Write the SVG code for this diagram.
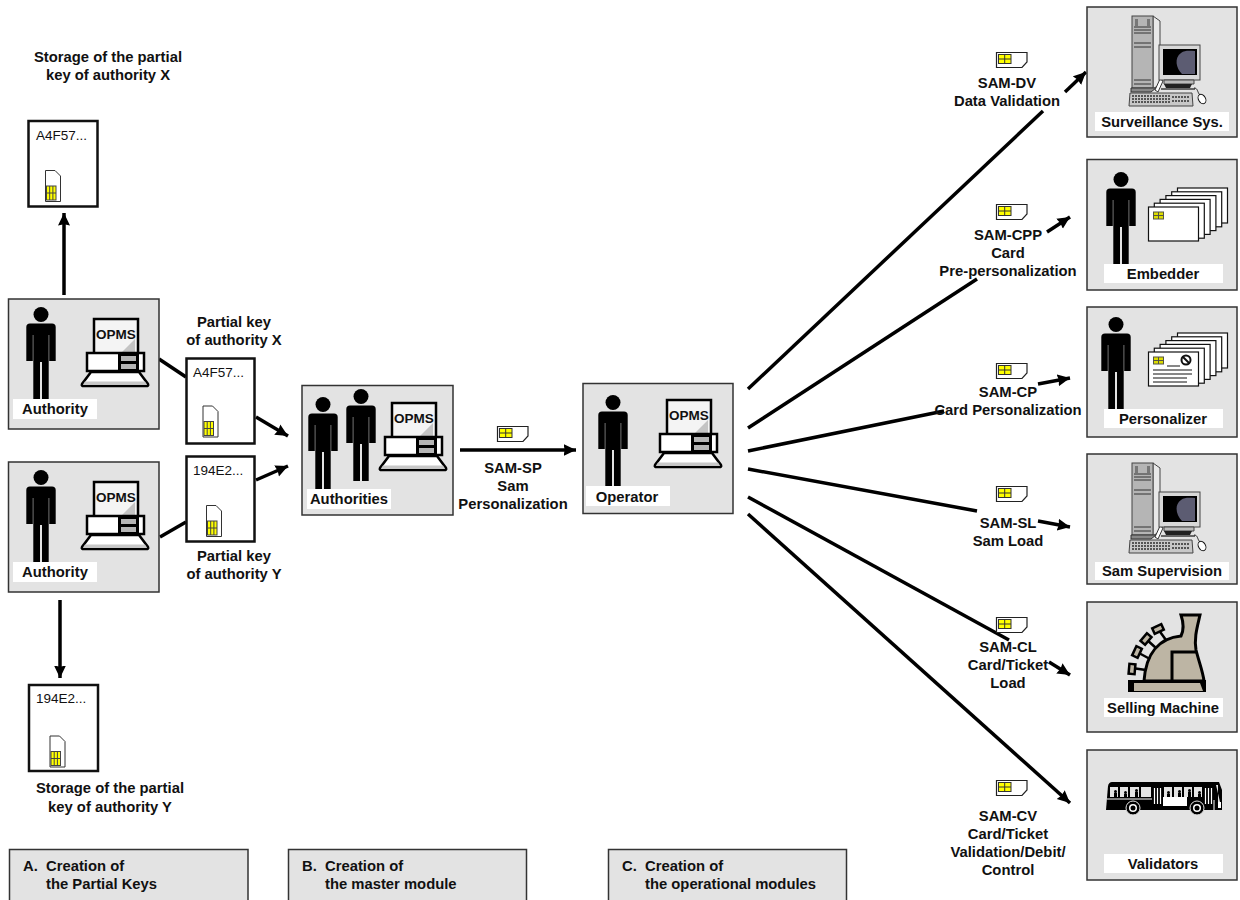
<svg xmlns="http://www.w3.org/2000/svg" xmlns:xlink="http://www.w3.org/1999/xlink" width="1240" height="900" viewBox="0 0 1240 900">
<style>
text{font-family:"Liberation Sans",Arial,sans-serif;font-size:14.8px;font-weight:bold;fill:#111}
.c{text-anchor:middle}
.r{font-weight:normal;font-size:13.5px}
.box{fill:#e3e3e3;stroke:#333;stroke-width:1.5}
.lab{fill:#fff;stroke:none}
.key{fill:#fff;stroke:#111;stroke-width:2.5}
.con{fill:none;stroke:#000;stroke-width:3.5}
.arr{fill:none;stroke:#000;stroke-width:3.5;marker-end:url(#ah)}
</style>
<defs>
<marker id="ah" markerUnits="userSpaceOnUse" markerWidth="14" markerHeight="13" refX="12.500" refY="6.500" orient="auto"><path d="M0 .5L12.500 6.500L0 12.500L1.200 6.500Z" fill="#000"/></marker>
<g id="person">
<circle cx="0" cy="7.500" r="7.500" fill="#000"/>
<path d="M-14.700 20Q-14.700 16.500-11 16.500H11Q14.700 16.500 14.700 20V54H8.200V28H7.700V92H1V55H-1V92H-7.700V28H-8.200V54H-14.700Z" fill="#000"/>
</g>
<g id="opms">
<rect x="0" y="0" width="44" height="35" fill="#f4f4f4" stroke="#000" stroke-width="2.500"/>
<path d="M27 34L41 20V34Z" fill="#c4c4c4"/>
<text x="2" y="20" style="font-size:13.500px">OPMS</text>
<rect x="-7" y="34" width="57" height="18" fill="#fff" stroke="#000" stroke-width="2.500"/>
<rect x="24" y="34" width="21" height="18" fill="#000"/>
<rect x="27" y="37" width="15" height="5" fill="#b5b5b5"/><rect x="27" y="45" width="15" height="5" fill="#b5b5b5"/>
<path d="M-3 53L-12 65Q-13 67-10 67H52Q55 67 54 65L45 53Z" fill="#fff" stroke="#000" stroke-width="2.500"/>
<path d="M-9 62.500H51L53 65.800H-11Z" fill="#c8c8c8"/>
</g>
<g id="simv">
<path d="M.5.500H10L15.500 6V31.500H.5Z" fill="#fff" stroke="#333" stroke-width="1"/>
<rect x="1.500" y="16" width="9.500" height="14" fill="#ff0" stroke="#444" stroke-width="1"/>
<path d="M4.700 16V30M7.900 16V30M1.500 23H11" stroke="#444" stroke-width="1"/>
</g>
<g id="simh">
<path d="M.5.500H31V10L26 15.500H.5Z" fill="#fff" stroke="#222" stroke-width="1.200"/>
<rect x="2.500" y="2.500" width="12.500" height="9" fill="#ff0" stroke="#333" stroke-width="1"/>
<path d="M2.500 7H15M8.700 2.500V11.500" stroke="#333" stroke-width="1"/>
</g>
<g id="computer">
<path d="M1153 16L1160 21V84L1153 89Z" fill="#e8e8e8" stroke="#444" stroke-width="1"/>
<rect x="1132" y="16" width="21" height="72" fill="#b5b5b5" stroke="#444" stroke-width="1"/>
<path d="M1134 27H1151M1134 30H1151M1134 33H1151M1134 43H1151M1134 47H1151M1134 80H1151M1134 84H1151" stroke="#333" stroke-width="1"/>
<rect x="1135" y="19" width="3" height="7" fill="#777"/><rect x="1147" y="19" width="3" height="7" fill="#777"/>
<path d="M1131 88H1156L1151 92H1131Z" fill="#888" stroke="#333" stroke-width="1"/>
<path d="M1155 90L1160 79L1163 81L1158 92Z" fill="#fff" stroke="#333" stroke-width="1"/>
<rect x="1159" y="45" width="41" height="35" fill="#d8d8d8" stroke="#444" stroke-width="1"/>
<rect x="1163" y="49" width="34" height="26" fill="#000"/>
<path d="M1195 51V74H1182C1176 68 1174 58 1181 53C1185 50 1190 51 1195 51Z" fill="#5c5c72"/>
<path d="M1164 80H1194V84H1164Z" fill="#bbb" stroke="#444" stroke-width="1"/>
<path d="M1164 84H1192L1190 88H1166Z" fill="#222"/>
<path d="M1161 88H1195V90H1161Z" fill="#666"/>
<path d="M1130 93H1192L1193 106H1129Z" fill="#c8c8c8" stroke="#444" stroke-width="1"/>
<path d="M1132 96H1170M1132 99H1170M1132 102H1170M1172 97H1190M1172 101H1190" stroke="#555" stroke-width="2" stroke-dasharray="2 1"/>
<path d="M1194 88C1198 88 1197 92 1200 95" fill="none" stroke="#222" stroke-width="1"/>
<ellipse cx="1202" cy="99" rx="3.500" ry="5" transform="rotate(-30 1202 99)" fill="#fff" stroke="#111" stroke-width="1"/>
</g>
<g id="cardstack">
<rect x="29" y="-19" width="50" height="35" fill="#fff" stroke="#111" stroke-width="1.200"/>
<rect x="23.200" y="-15.200" width="50" height="35" fill="#fff" stroke="#111" stroke-width="1.200"/>
<rect x="17.400" y="-11.400" width="50" height="35" fill="#fff" stroke="#111" stroke-width="1.200"/>
<rect x="11.600" y="-7.600" width="50" height="35" fill="#fff" stroke="#111" stroke-width="1.200"/>
<rect x="5.800" y="-3.800" width="50" height="35" fill="#fff" stroke="#111" stroke-width="1.200"/>
<rect x="0" y="0" width="50" height="34" fill="#fff" stroke="#111" stroke-width="1.200"/>
<rect x="5" y="5" width="10" height="7" fill="#dd0" stroke="#554" stroke-width="1"/>
<path d="M5 8.500H15M10 5V12" stroke="#554" stroke-width="1"/>
</g>
</defs>

<g id="connectors">
<path class="arr" d="M64 295V213"/>
<path class="arr" d="M60 600V678"/>
<path class="con" d="M159 359L186 377"/>
<path class="con" d="M160 537L186 522"/>
<path class="arr" d="M256 417L288 436"/>
<path class="arr" d="M256 480L288 466"/>
<path class="arr" d="M460 450H576"/>
<path class="con" d="M748 389L1043 111"/>
<path class="arr" d="M1065 92L1086 72"/>
<path class="con" d="M748 428L977 279"/>
<path class="arr" d="M1047 232L1070 217"/>
<path class="con" d="M748 451L944 411"/>
<path class="arr" d="M1038 384L1070 378"/>
<path class="con" d="M748 469L977 511"/>
<path class="arr" d="M1038 521L1070 527"/>
<path class="con" d="M748 497L1009 640"/>
<path class="arr" d="M1049 662L1070 675"/>
<path class="arr" d="M748 514L1070 803"/>
</g>

<g id="authority-x">
<rect class="box" x="8.500" y="299" width="150.500" height="130"/>
<use xlink:href="#person" href="#person" x="41" y="307"/>
<use xlink:href="#opms" href="#opms" x="94" y="319"/>
<rect class="lab" x="13" y="399" width="84" height="20"/>
<text class="c" x="55" y="414">Authority</text>
</g>
<g id="authority-y">
<rect class="box" x="8.500" y="462" width="150.500" height="130"/>
<use xlink:href="#person" href="#person" x="41" y="470"/>
<use xlink:href="#opms" href="#opms" x="94" y="482"/>
<rect class="lab" x="13" y="562" width="84" height="20"/>
<text class="c" x="55" y="577">Authority</text>
</g>
<g id="storage-x">
<text class="c" x="108" y="62">Storage of the partial</text>
<text class="c" x="108" y="80">key of authority X</text>
<rect class="key" x="28.500" y="121" width="69" height="85.500"/>
<text class="r" x="36" y="140">A4F57...</text>
<use xlink:href="#simv" href="#simv" x="45" y="170"/>
</g>
<g id="storage-y">
<rect class="key" x="29" y="685" width="69" height="86"/>
<text class="r" x="36" y="703">194E2...</text>
<use xlink:href="#simv" href="#simv" x="49.500" y="735.500"/>
<text class="c" x="110" y="793">Storage of the partial</text>
<text class="c" x="110" y="812">key of authority Y</text>
</g>
<g id="key-x">
<text class="c" x="234" y="327">Partial key</text>
<text class="c" x="234" y="345">of authority X</text>
<rect class="key" x="186.500" y="358.500" width="68" height="85"/>
<text class="r" x="193" y="377">A4F57...</text>
<use xlink:href="#simv" href="#simv" x="202.500" y="405.500"/>
</g>
<g id="key-y">
<rect class="key" x="186.500" y="456.500" width="68" height="85"/>
<text class="r" x="193" y="475">194E2...</text>
<use xlink:href="#simv" href="#simv" x="206" y="505"/>
<text class="c" x="234" y="561">Partial key</text>
<text class="c" x="234" y="579">of authority Y</text>
</g>
<g id="authorities">
<rect class="box" x="302" y="385.500" width="151" height="129.500"/>
<use xlink:href="#person" href="#person" x="323" y="397"/>
<use xlink:href="#person" href="#person" x="361" y="389"/>
<use xlink:href="#opms" href="#opms" x="392" y="403"/>
<rect class="lab" x="307" y="489" width="84" height="20"/>
<text class="c" x="349" y="504">Authorities</text>
</g>
<g id="sam-sp">
<use xlink:href="#simh" href="#simh" x="497" y="426"/>
<text class="c" x="513" y="473">SAM-SP</text>
<text class="c" x="513" y="491">Sam</text>
<text class="c" x="513" y="509">Personalization</text>
</g>
<g id="operator">
<rect class="box" x="583" y="383.500" width="150" height="130"/>
<use xlink:href="#person" href="#person" x="613" y="395"/>
<use xlink:href="#opms" href="#opms" x="667" y="400"/>
<rect class="lab" x="586" y="486" width="84" height="20"/>
<text class="c" x="627" y="502">Operator</text>
</g>

<g id="sam-dv">
<use xlink:href="#simh" href="#simh" x="996" y="52"/>
<text class="c" x="1007" y="88">SAM-DV</text>
<text class="c" x="1007" y="106">Data Validation</text>
</g>
<g id="sam-cpp">
<use xlink:href="#simh" href="#simh" x="996" y="204"/>
<text class="c" x="1008" y="240">SAM-CPP</text>
<text class="c" x="1008" y="258">Card</text>
<text class="c" x="1008" y="276">Pre-personalization</text>
</g>
<g id="sam-cp">
<use xlink:href="#simh" href="#simh" x="996" y="363"/>
<text class="c" x="1008" y="397">SAM-CP</text>
<text class="c" x="1008" y="415">Card Personalization</text>
</g>
<g id="sam-sl">
<use xlink:href="#simh" href="#simh" x="996" y="486"/>
<text class="c" x="1008" y="528">SAM-SL</text>
<text class="c" x="1008" y="546">Sam Load</text>
</g>
<g id="sam-cl">
<use xlink:href="#simh" href="#simh" x="996" y="617"/>
<text class="c" x="1008" y="652">SAM-CL</text>
<text class="c" x="1008" y="670">Card/Ticket</text>
<text class="c" x="1008" y="688">Load</text>
</g>
<g id="sam-cv">
<use xlink:href="#simh" href="#simh" x="996" y="780"/>
<text class="c" x="1008" y="821">SAM-CV</text>
<text class="c" x="1008" y="839">Card/Ticket</text>
<text class="c" x="1008" y="857">Validation/Debit/</text>
<text class="c" x="1008" y="875">Control</text>
</g>

<g id="surveillance">
<rect class="box" x="1087" y="7" width="150" height="130"/>
<use xlink:href="#computer" href="#computer"/>
<rect class="lab" x="1095" y="112" width="134" height="19"/>
<text class="c" x="1162" y="127">Surveillance Sys.</text>
</g>
<g id="embedder">
<rect class="box" x="1087" y="159.500" width="150" height="130.500"/>
<use xlink:href="#person" href="#person" x="1121" y="172"/>
<use xlink:href="#cardstack" href="#cardstack" x="1148.500" y="207"/>
<rect class="lab" x="1104" y="264" width="119" height="19"/>
<text class="c" x="1163" y="279">Embedder</text>
</g>
<g id="personalizer">
<rect class="box" x="1087" y="307" width="150" height="130"/>
<use xlink:href="#person" href="#person" x="1116" y="317"/>
<use xlink:href="#cardstack" href="#cardstack" x="1148.500" y="352"/>
<path d="M1180 366H1167M1153 370H1192M1153 374H1192M1153 378H1187M1153 382H1187" stroke="#111" stroke-width="1.200" fill="none"/>
<circle cx="1186" cy="360" r="4.500" fill="#fff" stroke="#111" stroke-width="2"/>
<path d="M1183 357L1189 363" stroke="#111" stroke-width="2"/>
<rect class="lab" x="1104" y="409" width="119" height="19"/>
<text class="c" x="1163" y="424">Personalizer</text>
</g>
<g id="sam-supervision">
<rect class="box" x="1087" y="454" width="150" height="130"/>
<use xlink:href="#computer" href="#computer" y="447"/>
<rect class="lab" x="1095" y="562" width="134" height="18"/>
<text class="c" x="1162" y="576">Sam Supervision</text>
</g>
<g id="selling-machine">
<rect class="box" x="1087" y="602" width="150" height="130"/>
<path d="M1128 680H1206V692H1128Z" fill="#000"/>
<path d="M1144 681C1146 652 1160 638 1181 636C1184 630 1184 624 1181 615H1200C1197 628 1194 638 1196 650C1199 662 1203 672 1204 681Z" fill="#bdb5a4" stroke="#000" stroke-width="3"/>
<path d="M1172 681V652H1197" fill="none" stroke="#000" stroke-width="3"/>
<path d="M1134 683H1200L1203 691H1134Z" fill="#bdb5a4"/>
<path d="M1132 668L1146 670M1137 652L1150 659M1146 639L1156 648M1158 629L1166 640" stroke="#000" stroke-width="2.500"/>
<g fill="#bdb5a4" stroke="#000" stroke-width="2.500">
<rect x="1129" y="664" width="6" height="10" transform="rotate(5 1132 669)"/>
<rect x="1134" y="647" width="6" height="10" transform="rotate(25 1137 652)"/>
<rect x="1143" y="634" width="6" height="10" transform="rotate(40 1146 639)"/>
<rect x="1155" y="624" width="6" height="10" transform="rotate(65 1158 629)"/>
</g>
<rect class="lab" x="1104" y="698" width="119" height="19"/>
<text class="c" x="1163" y="713">Selling Machine</text>
</g>
<g id="validators">
<rect class="box" x="1087" y="750" width="150" height="130"/>
<path d="M1106 810L1108 786Q1109 782 1112 782H1219L1222 790V810Z" fill="#000"/>
<path d="M1216 785L1220 802H1218V785Z" fill="#e3e3e3"/>
<g fill="#e3e3e3">
<rect x="1110" y="787" width="8" height="10"/><rect x="1120" y="787" width="8" height="10"/><rect x="1130" y="787" width="9" height="10"/><rect x="1141" y="787" width="10" height="10"/>
<rect x="1164" y="787" width="8" height="10"/><rect x="1174" y="787" width="8" height="10"/><rect x="1184" y="787" width="8" height="10"/><rect x="1194" y="787" width="8" height="10"/>
</g>
<g fill="#000">
<path d="M1114 797V793H1117V797ZM1124 797V794H1127V797ZM1135 797V792H1138V797ZM1167 797V794H1170V797ZM1178 797V793H1181V797ZM1188 797V792H1191V797ZM1198 797V794H1201V797Z"/>
<circle cx="1115.500" cy="791.500" r="1.500"/><circle cx="1125.500" cy="792.500" r="1.500"/><circle cx="1136.500" cy="790.500" r="1.500"/><circle cx="1168.500" cy="792.500" r="1.500"/><circle cx="1179.500" cy="791.500" r="1.500"/><circle cx="1189.500" cy="790.500" r="1.500"/><circle cx="1199.500" cy="792.500" r="1.500"/>
</g>
<path d="M1154.500 788V804M1157.500 788V804M1160.500 788V804M1205.500 788V804M1208.500 788V804M1211.500 788V804" stroke="#fff" stroke-width="1.200"/>
<path d="M1107 799H1152M1214 800V810" stroke="#fff" stroke-width="1"/>
<rect x="1163" y="797" width="24" height="9" fill="#fff"/>
<rect x="1218" y="802" width="3" height="6" fill="#fff"/>
<circle cx="1133" cy="808" r="7" fill="#000" stroke="#e3e3e3" stroke-width="1"/><circle cx="1133" cy="808" r="4" fill="#fff"/><circle cx="1133" cy="808" r="2.500" fill="#000"/>
<circle cx="1197" cy="808" r="7" fill="#000" stroke="#e3e3e3" stroke-width="1"/><circle cx="1197" cy="808" r="4" fill="#fff"/><circle cx="1197" cy="808" r="2.500" fill="#000"/>
<rect class="lab" x="1104" y="854" width="119" height="19"/>
<text class="c" x="1163" y="869">Validators</text>
</g>

<g id="section-a">
<rect class="box" x="9.500" y="849.500" width="238.500" height="60"/>
<text x="23" y="871">A.</text><text x="46" y="871">Creation of</text><text x="46" y="889">the Partial Keys</text>
</g>
<g id="section-b">
<rect class="box" x="288.500" y="849.500" width="238" height="60"/>
<text x="302" y="871">B.</text><text x="325" y="871">Creation of</text><text x="325" y="889">the master module</text>
</g>
<g id="section-c">
<rect class="box" x="608.500" y="849.500" width="238" height="60"/>
<text x="622" y="871">C.</text><text x="645" y="871">Creation of</text><text x="645" y="889">the operational modules</text>
</g>
</svg>
